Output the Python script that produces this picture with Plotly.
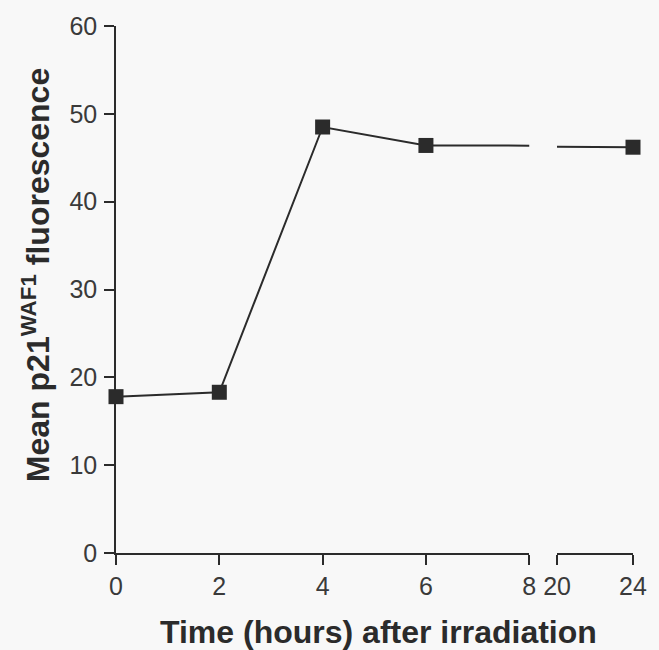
import plotly.graph_objects as go

# Data
times = [0, 2, 4, 6, 24]
values = [17.8, 18.3, 48.5, 46.4, 46.2]
early_ticks = [0, 2, 4, 6, 8]
late_ticks = [20, 24]
y_ticks = [0, 10, 20, 30, 40, 50, 60]

early_t = [t for t in times if t <= 8]
early_v = [v for t, v in zip(times, values) if t <= 8]
late_t = [t for t in times if t >= 20]
late_v = [v for t, v in zip(times, values) if t >= 20]

ink = "#2b2b2b"
font_fam = "Arial, Liberation Sans, Helvetica, sans-serif"

fig = go.Figure()
# connecting line, clipped by each axis segment
fig.add_trace(go.Scatter(x=times, y=values, mode="lines", xaxis="x", yaxis="y",
                         line=dict(color=ink, width=2), showlegend=False, hoverinfo="skip"))
fig.add_trace(go.Scatter(x=times, y=values, mode="lines", xaxis="x2", yaxis="y",
                         line=dict(color=ink, width=2), showlegend=False, hoverinfo="skip"))
# markers
fig.add_trace(go.Scatter(x=early_t, y=early_v, mode="markers", xaxis="x", yaxis="y",
                         marker=dict(symbol="square", size=15, color=ink),
                         cliponaxis=False, showlegend=False))
fig.add_trace(go.Scatter(x=late_t, y=late_v, mode="markers", xaxis="x2", yaxis="y",
                         marker=dict(symbol="square", size=15, color=ink),
                         cliponaxis=False, showlegend=False))

axis_common = dict(showline=True, linecolor=ink, linewidth=1.5, ticks="outside",
                   ticklen=10, tickwidth=1.5, tickcolor=ink, showgrid=False, zeroline=False,
                   tickfont=dict(family=font_fam, size=25, color="#3a3a3a"))

fig.update_layout(
    width=659, height=650,
    margin=dict(l=116, r=15.5, t=20, b=96.7),
    paper_bgcolor="#f8f8f8", plot_bgcolor="#f8f8f8",
    xaxis=dict(domain=[0, 0.7993], range=[0, 8], tickvals=early_ticks,
               ticktext=[str(t) for t in early_ticks], anchor="y", **axis_common),
    xaxis2=dict(domain=[0.8531, 1], range=[20, 24], tickvals=late_ticks,
                ticktext=[str(t) for t in late_ticks], anchor="y", **axis_common),
    yaxis=dict(domain=[0, 1], range=[0, 60], tickvals=y_ticks, anchor="x",
               ticklabelstandoff=2, **axis_common),
    annotations=[
        dict(text="<b>Time (hours) after irradiation</b>", xref="paper", yref="paper",
             x=0.508, y=-0.15, xanchor="center", yanchor="middle", showarrow=False,
             font=dict(family=font_fam, size=32, color="#2b2b2b")),
        dict(text="<b>Mean p21<sup>WAF1</sup> fluorescence</b>", xref="paper", yref="paper",
             x=-0.155, y=0.527, xanchor="center", yanchor="middle", showarrow=False,
             textangle=-90, font=dict(family=font_fam, size=32, color="#2b2b2b")),
    ],
)

fig.write_html("out.html")
